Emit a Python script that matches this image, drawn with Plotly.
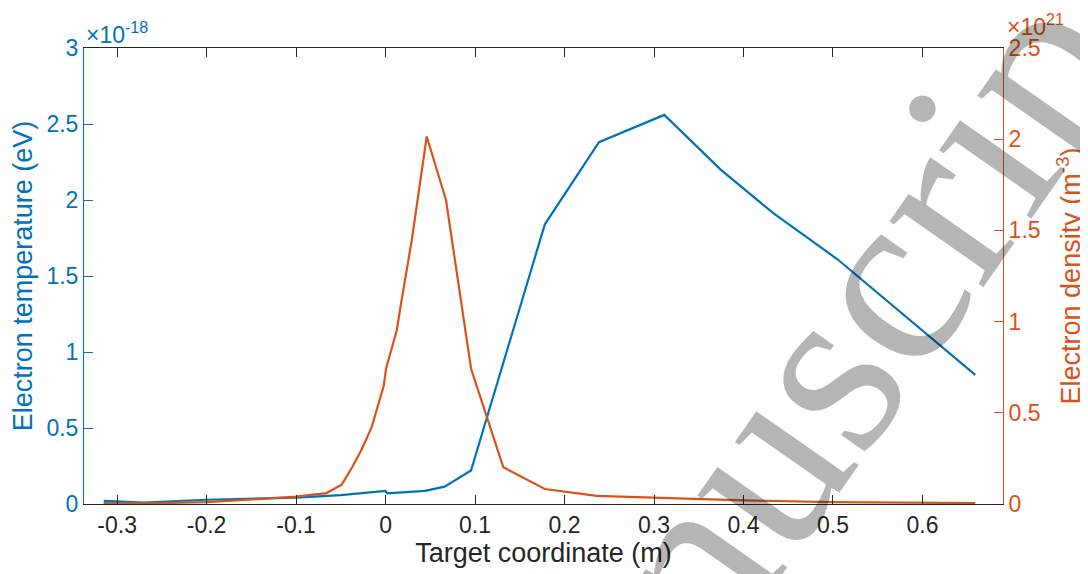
import plotly.graph_objects as go

# Electron temperature (left axis, units of 1e-18)
x_te = [-0.315, -0.27, -0.2, -0.1, -0.05, -0.017, 0.0, 0.002, 0.02, 0.044, 0.066,
        0.0955, 0.178, 0.2385, 0.3115, 0.3745, 0.434, 0.505, 0.659]
te = [0.02, 0.01, 0.028, 0.042, 0.058, 0.077, 0.086, 0.07, 0.075, 0.086, 0.114,
      0.22, 1.84, 2.38, 2.56, 2.2, 1.91, 1.61, 0.85]

# Electron density (right axis, units of 1e21)
x_ne = [-0.315, -0.27, -0.2, -0.1, -0.066, -0.049, -0.037, -0.027, -0.0154, -0.0076,
        -0.002, 0.0006, 0.0125, 0.0173, 0.0293, 0.046, 0.0676, 0.0955, 0.1316,
        0.178, 0.236, 0.299, 0.4, 0.5, 0.659]
ne = [0.005, 0.003, 0.01, 0.04, 0.06, 0.106, 0.204, 0.296, 0.423, 0.55,
      0.65, 0.743, 0.953, 1.099, 1.446, 2.015, 1.665, 0.743, 0.201,
      0.082, 0.045, 0.035, 0.02, 0.01, 0.005]

x_ticks = [-0.3, -0.2, -0.1, 0.0, 0.1, 0.2, 0.3, 0.4, 0.5, 0.6]
x_ticklabels = ["-0.3", "-0.2", "-0.1", "0", "0.1", "0.2", "0.3", "0.4", "0.5", "0.6"]
te_ticks = [0, 0.5, 1, 1.5, 2, 2.5, 3]
te_ticklabels = ["0", "0.5", "1", "1.5", "2", "2.5", "3"]
ne_ticks = [0, 0.5, 1, 1.5, 2, 2.5]
ne_ticklabels = ["0", "0.5", "1", "1.5", "2", "2.5"]

BLUE = "#0072BD"
ORANGE = "#D95319"
DARK = "#262626"
FONT = "Liberation Sans, Arial, sans-serif"

fig = go.Figure()
fig.add_trace(go.Scatter(x=x_te, y=te, mode="lines", line=dict(color=BLUE, width=2.2),
                         yaxis="y", showlegend=False))
fig.add_trace(go.Scatter(x=x_ne, y=ne, mode="lines", line=dict(color=ORANGE, width=2.2),
                         yaxis="y2", showlegend=False))

fig.update_layout(
    width=1080, height=566,
    margin=dict(l=76, r=85, t=40, b=70),
    paper_bgcolor="white", plot_bgcolor="white",
    font=dict(family=FONT, size=23, color=DARK),
    xaxis=dict(range=[-0.337, 0.690], tickvals=x_ticks, ticktext=x_ticklabels,
               ticks="inside", ticklen=9, tickcolor=DARK, tickwidth=1,
               showline=True, linecolor=DARK, linewidth=1, mirror="ticks",
               showgrid=False, zeroline=False,
               tickfont=dict(size=23, color=DARK),
               title=dict(text="Target coordinate (m)", font=dict(size=27, color=DARK), standoff=4),
               automargin=False),
    yaxis=dict(range=[0, 3], tickvals=te_ticks, ticktext=te_ticklabels,
               ticks="inside", ticklen=9, tickcolor=BLUE, tickwidth=1,
               showline=True, linecolor=BLUE, linewidth=1,
               showgrid=False, zeroline=False,
               tickfont=dict(size=23, color=BLUE),
               title=dict(text="Electron temperature (eV)", font=dict(size=27, color=BLUE), standoff=6),
               automargin=False),
    yaxis2=dict(range=[0, 2.5], tickvals=ne_ticks, ticktext=ne_ticklabels,
                overlaying="y", side="right",
                ticks="inside", ticklen=9, tickcolor=ORANGE, tickwidth=1,
                showline=True, linecolor=ORANGE, linewidth=1,
                showgrid=False, zeroline=False,
                tickfont=dict(size=23, color=ORANGE),
                title=dict(text="Electron density (m<sup>-3</sup>)", font=dict(size=27, color=ORANGE), standoff=21),
                automargin=False),
)

fig.add_annotation(xref="paper", yref="paper", x=0, y=1, xanchor="left", yanchor="bottom",
                   xshift=0, yshift=-2, showarrow=False,
                   text="×10<sup>-18</sup>", font=dict(family=FONT, size=23, color=BLUE))
fig.add_annotation(xref="paper", yref="paper", x=1, y=1, xanchor="left", yanchor="bottom",
                   xshift=2, yshift=6, showarrow=False,
                   text="×10<sup>21</sup>", font=dict(family=FONT, size=23, color=ORANGE))

# watermark
fig.add_annotation(xref="paper", yref="paper", x=0.448, y=-0.730, xanchor="center", yanchor="middle",
                   showarrow=False, textangle=-55, text="Accepted Manuscript",
                   font=dict(family="Liberation Serif, Times New Roman, serif", size=250,
                             color="rgba(0,0,0,0.29)"))

fig.write_html("out.html")
